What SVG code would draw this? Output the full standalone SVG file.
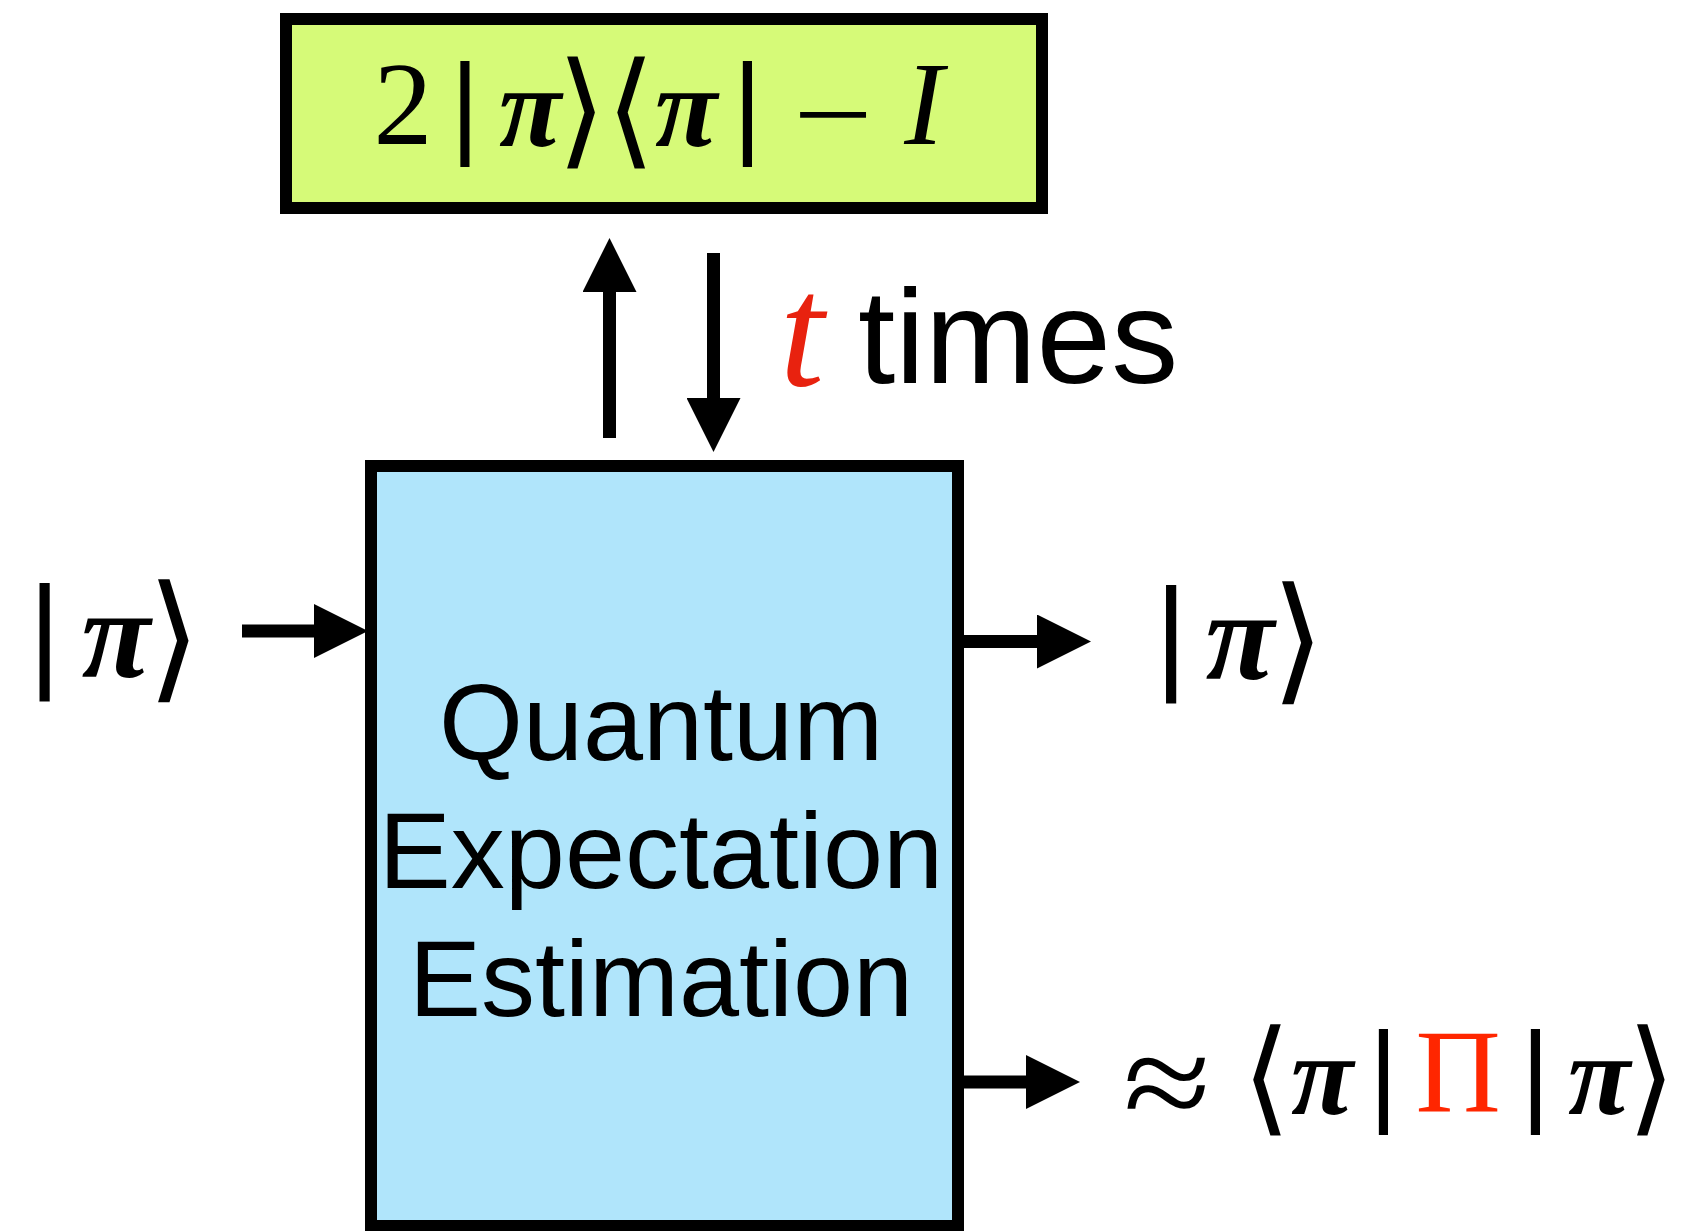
<svg xmlns="http://www.w3.org/2000/svg" width="1681" height="1231" viewBox="0 0 1681 1231">
<defs>
<style>
.box{stroke:#000;stroke-width:12}
.conn{stroke:#000;stroke-width:13;fill:none}
.ser{font-family:"Liberation Serif","Times New Roman",serif;font-size:118px;text-anchor:middle;fill:#000}
.it{font-style:italic}
.pi{font-weight:bold}
.bar{font-family:"Liberation Sans",Arial,sans-serif;text-anchor:middle;fill:#000}
.br{font-family:"DejaVu Sans",sans-serif;font-weight:200;text-anchor:middle;fill:#000}
.lbl{font-family:"Liberation Sans",Arial,Helvetica,sans-serif;fill:#000}
</style>
<marker id="ah" markerUnits="userSpaceOnUse" viewBox="0 0 54 54" markerWidth="54" markerHeight="54" refX="1" refY="27" orient="auto">
<path d="M0,0 L54,27 L0,54 Z" fill="#000"/>
</marker>
</defs>
<rect width="1681" height="1231" fill="#fff"/>

<g id="node-reflection">
<rect class="box" x="286" y="19" width="756" height="189" fill="#d6fa78"/>
<text class="ser" x="403" y="144">2</text>
<text class="bar" x="465" y="143" font-size="113">|</text>
<text class="ser it pi" x="530" y="146" style="font-size:114px">π</text>
<text class="br" x="581" y="152" font-size="126">⟩</text>
<text class="br" x="630" y="152" font-size="126">⟨</text>
<text class="ser it pi" x="686" y="146" style="font-size:114px">π</text>
<text class="bar" x="747.5" y="143" font-size="113">|</text>
<text class="ser" transform="translate(833,154) scale(1.2,1)" x="0" y="0">−</text>
<text class="ser it" x="924" y="144">I</text>
</g>

<g id="node-qee">
<rect class="box" x="371" y="466" width="587" height="760" fill="#b0e5fb"/>
<text class="lbl" x="661" y="760" font-size="108" text-anchor="middle">Quantum</text>
<text class="lbl" x="661" y="888" font-size="108" text-anchor="middle">Expectation</text>
<text class="lbl" x="661" y="1016" font-size="108" text-anchor="middle">Estimation</text>
</g>

<g id="label-times">
<text class="ser it" x="802" y="385" style="font-size:160px;fill:#e8220f">t</text>
<text class="lbl" x="858" y="383" font-size="134">times</text>
</g>

<g id="node-input">
<text class="bar" x="44.5" y="675" font-size="126">|</text>
<text class="ser it pi" x="116" y="677" style="font-size:126px">π</text>
<text class="br" x="174" y="684" font-size="138">⟩</text>
</g>

<g id="node-output-state">
<text class="bar" x="1171" y="677" font-size="126">|</text>
<text class="ser it pi" x="1240" y="679" style="font-size:126px">π</text>
<text class="br" x="1298" y="686" font-size="138">⟩</text>
</g>

<g id="node-output-estimate">
<text class="ser" transform="translate(1167,1082) scale(1.02,0.88)" x="0" y="53" style="font-size:157px">≈</text>
<text class="br" x="1266" y="1119" font-size="125">⟨</text>
<text class="ser it pi" x="1322" y="1114" style="font-size:114px">π</text>
<text class="bar" x="1383.5" y="1111" font-size="113">|</text>
<text class="ser" x="1458" y="1112" style="fill:#ff2600">Π</text>
<text class="bar" x="1535.5" y="1111" font-size="113">|</text>
<text class="ser it pi" x="1599" y="1114" style="font-size:114px">π</text>
<text class="br" x="1651" y="1119" font-size="125">⟩</text>
</g>

<g id="connectors">
<line class="conn" x1="609.5" y1="438" x2="609.5" y2="291" marker-end="url(#ah)"/>
<line class="conn" x1="713.5" y1="253" x2="713.5" y2="399" marker-end="url(#ah)"/>
<line class="conn" x1="242" y1="631" x2="315" y2="631" marker-end="url(#ah)"/>
<line class="conn" x1="964" y1="641.5" x2="1038" y2="641.5" marker-end="url(#ah)"/>
<line class="conn" x1="964" y1="1082" x2="1027" y2="1082" marker-end="url(#ah)"/>
</g>
</svg>
